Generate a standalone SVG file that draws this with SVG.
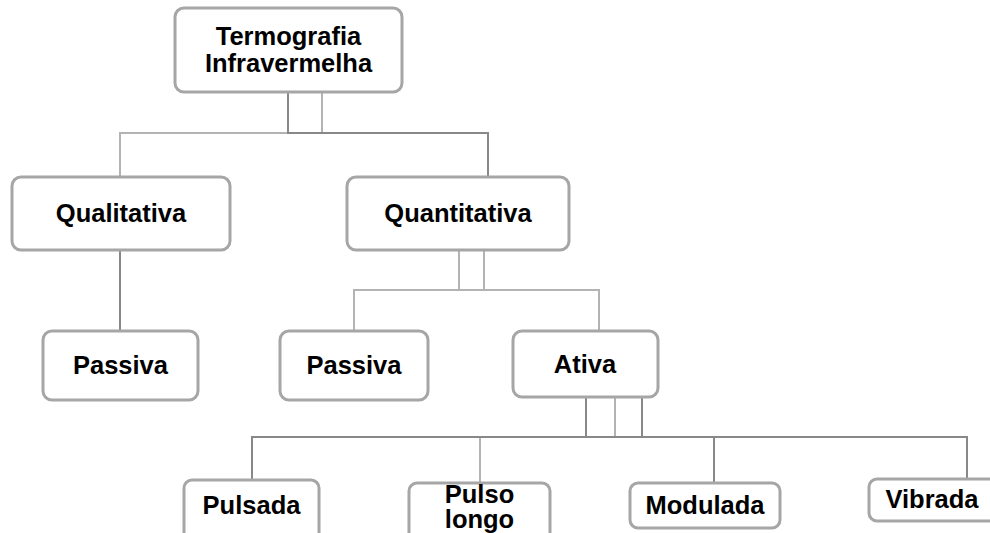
<svg xmlns="http://www.w3.org/2000/svg" width="990" height="533" viewBox="0 0 990 533">
<style>
.box{fill:#ffffff;stroke:#a6a6a6;stroke-width:3}
.t{font-family:"Liberation Sans",Arial,sans-serif;font-weight:bold;font-size:25.5px;fill:#000;text-anchor:middle}
.cl{fill:none;stroke:#b3b3b3;stroke-width:2}
.cd{fill:none;stroke:#888888;stroke-width:2}
</style>
<rect width="990" height="533" fill="#ffffff"/>
<g id="connectors">
<path class="cl" d="M322,92 V133 H120 V177"/>
<path class="cd" d="M288,92 V133 H488 V177"/>
<path class="cd" d="M120,250 V331"/>
<path class="cl" d="M459,250 V290 H354 V331"/>
<path class="cl" d="M484,250 V290 H459 M484,290 H599 V331"/>
<path class="cl" d="M615,397 V437 H480 V483"/>
<path class="cd" d="M586,397 V437 H252 V480"/>
<path class="cd" d="M642,397 V437 H586 M642,437 H714 V483"/>
<path class="cd" d="M642,437 H967 V479"/>
</g>
<g id="n-termografia">
<rect class="box" x="175" y="8" width="227" height="84" rx="9"/>
<text class="t" x="288.5" y="45">Termografia</text>
<text class="t" x="288.5" y="72">Infravermelha</text>
</g>
<g id="n-qualitativa">
<rect class="box" x="12" y="177" width="218" height="73" rx="9"/>
<text class="t" x="121" y="222">Qualitativa</text>
</g>
<g id="n-quantitativa">
<rect class="box" x="347" y="177" width="222" height="73" rx="9"/>
<text class="t" x="458" y="222">Quantitativa</text>
</g>
<g id="n-passiva1">
<rect class="box" x="43" y="331" width="155" height="69" rx="9"/>
<text class="t" x="120.5" y="374">Passiva</text>
</g>
<g id="n-passiva2">
<rect class="box" x="280" y="331" width="148" height="69" rx="9"/>
<text class="t" x="354" y="374">Passiva</text>
</g>
<g id="n-ativa">
<rect class="box" x="513" y="331" width="145" height="66" rx="9"/>
<text class="t" x="585" y="373">Ativa</text>
</g>
<g id="n-pulsada">
<rect class="box" x="184" y="480" width="135" height="62" rx="8"/>
<text class="t" x="251.5" y="514">Pulsada</text>
</g>
<g id="n-pulsolongo">
<rect class="box" x="409" y="483" width="141" height="60" rx="8"/>
<text class="t" x="479.5" y="503">Pulso</text>
<text class="t" x="479.5" y="528">longo</text>
</g>
<g id="n-modulada">
<rect class="box" x="630" y="483" width="150" height="45" rx="8"/>
<text class="t" x="705" y="514">Modulada</text>
</g>
<g id="n-vibrada">
<rect class="box" x="869" y="479" width="130" height="42" rx="8"/>
<text class="t" x="932" y="508">Vibrada</text>
</g>
</svg>
